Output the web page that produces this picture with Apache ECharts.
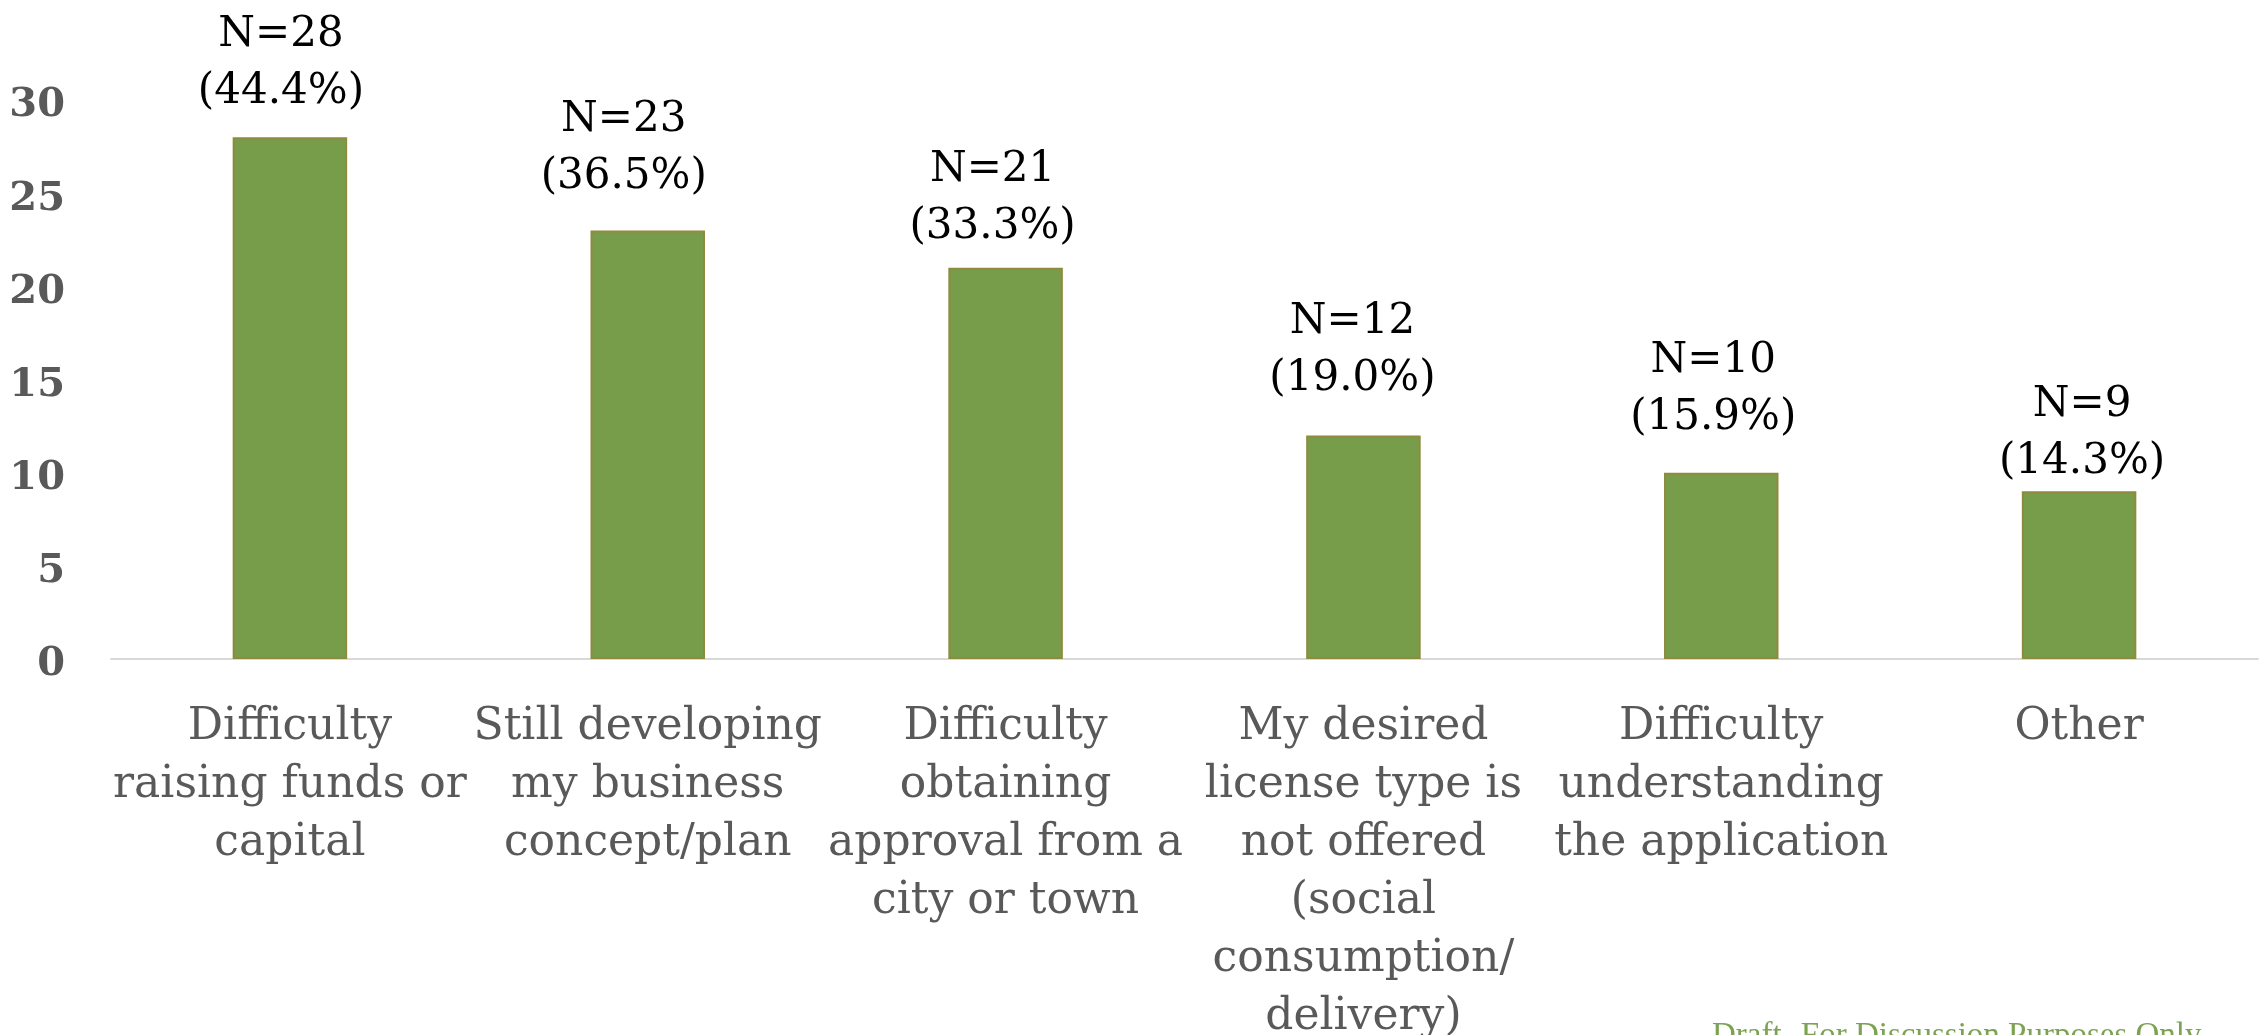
<!DOCTYPE html>
<html><head><meta charset="utf-8">
<script src="https://cdn.jsdelivr.net/npm/echarts@6/dist/echarts.min.js"></script>
<style>html,body{margin:0;padding:0;background:#fff;overflow:hidden}#c{width:2264px;height:1035px}</style>
</head><body><div id="c"></div>
<script>
const categories = [
  "Difficulty\nraising funds or\ncapital",
  "Still developing\nmy business\nconcept/plan",
  "Difficulty\nobtaining\napproval from a\ncity or town",
  "My desired\nlicense type is\nnot offered\n(social\nconsumption/\ndelivery)",
  "Difficulty\nunderstanding\nthe application",
  "Other"
];
const counts = [28, 23, 21, 12, 10, 9];
const percents = ["44.4%", "36.5%", "33.3%", "19.0%", "15.9%", "14.3%"];
const yTicks = [0, 5, 10, 15, 20, 25, 30];
const watermark = "Draft- For Discussion Purposes Only";

// label nudges (as placed in the original chart)
const labelLift = [17, 25, 12, 28, 26, 1];
const labelShiftX = [-9, -24, -13, -11, -8, 3];

const FONT = "'DejaVu Serif', serif";
const chart = echarts.init(document.getElementById('c'), null, {renderer: 'canvas'});
chart.setOption({
  animation: false,
  grid: {left: 111, right: 6, top: 100, bottom: 376, containLabel: false, outerBoundsMode: 'none'},
  xAxis: {
    type: 'category', data: categories,
    axisLine: {lineStyle: {color: '#d9d9d9', width: 2}},
    axisTick: {show: false},
    axisLabel: {interval: 0, color: '#595959', fontFamily: FONT, fontSize: 44, lineHeight: 58, margin: 40}
  },
  yAxis: {
    type: 'value', min: yTicks[0], max: yTicks[yTicks.length - 1], interval: 5,
    splitLine: {show: false}, axisLine: {show: false}, axisTick: {show: false},
    axisLabel: {color: '#595959', fontFamily: FONT, fontSize: 40, fontWeight: 'bold', margin: 46,
      lineHeight: 12, verticalAlign: 'top'}
  },
  series: [{
    type: 'bar',
    data: counts.map((v, i) => ({value: v, label: {distance: labelLift[i], offset: [labelShiftX[i], 0]}})),
    barWidth: '32%',
    itemStyle: {color: '#789d4a', borderColor: '#8f8a3e', borderWidth: 2},
    label: {
      show: true, position: 'top', color: '#000', fontFamily: FONT, fontSize: 42, lineHeight: 57,
      formatter: p => 'N=' + counts[p.dataIndex] + '\n(' + percents[p.dataIndex] + ')'
    }
  }],
  graphic: [{
    type: 'text', left: 1712, top: 1020,
    style: {text: watermark, fill: '#7ba352', font: "33px 'Liberation Serif', serif"}
  }]
});
</script></body></html>
